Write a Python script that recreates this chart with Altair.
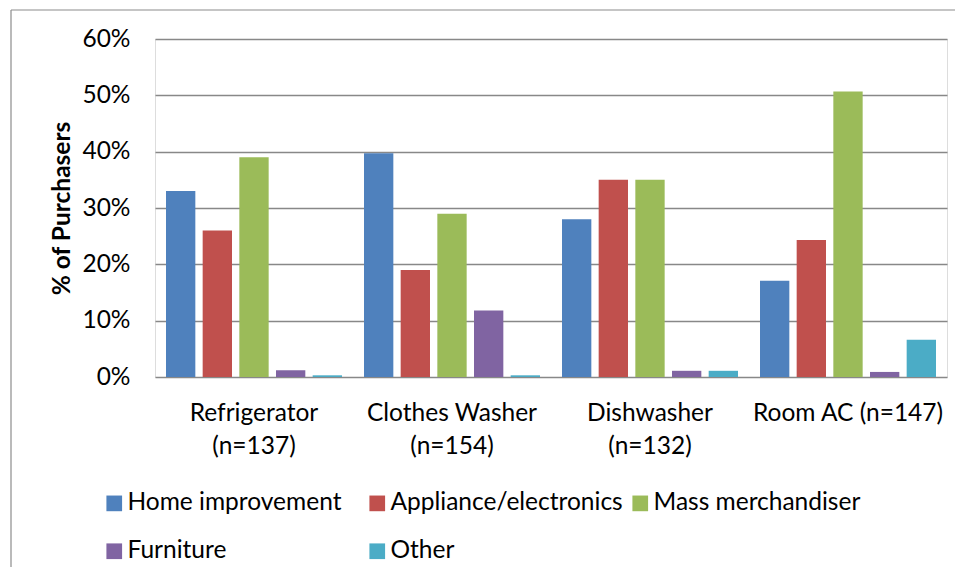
import altair as alt
import pandas as pd

categories = ["Refrigerator\n(n=137)", "Clothes Washer\n(n=154)", "Dishwasher\n(n=132)", "Room AC (n=147)"]
series = ["Home improvement", "Appliance/electronics", "Mass merchandiser", "Furniture", "Other"]
colors = ["#4F81BD", "#C0504D", "#9BBB59", "#8064A2", "#4BACC6"]

home_improvement = [0.330, 0.397, 0.280, 0.171]
appliance_electronics = [0.260, 0.190, 0.350, 0.243]
mass_merchandiser = [0.390, 0.290, 0.350, 0.507]
furniture = [0.012, 0.118, 0.011, 0.009]
other = [0.003, 0.003, 0.011, 0.066]

values_by_series = [home_improvement, appliance_electronics, mass_merchandiser, furniture, other]
rows = []
for s, vals in zip(series, values_by_series):
    for c, v in zip(categories, vals):
        rows.append({"category": c, "series": s, "value": v})
df = pd.DataFrame(rows)

FONT = "Lato"
FS = 24.5

bars = alt.Chart(df).mark_bar().encode(
    x=alt.X("category:N", sort=categories,
            scale=alt.Scale(paddingInner=0, paddingOuter=0),
            axis=alt.Axis(title=None, labelExpr="split(datum.label, '\\n')",
                          labelAngle=0, ticks=False, domain=False,
                          labelPadding=24, labelLineHeight=33, labelLimit=300,
                          labelFont=FONT, labelFontSize=FS, labelColor="#000000",
                          labelBaseline="top")),
    xOffset=alt.XOffset("series:N", sort=series,
                        scale=alt.Scale(paddingInner=0.2, paddingOuter=0.3)),
    y=alt.Y("value:Q", scale=alt.Scale(domain=[0, 0.6], nice=False),
            axis=alt.Axis(title="% of Purchasers", format=".0%",
                          values=[0, 0.1, 0.2, 0.3, 0.4, 0.5, 0.6],
                          ticks=False, domain=False, labelPadding=25,
                          labelFont=FONT, labelFontSize=FS, labelColor="#000000",
                          titleFont=FONT, titleFontSize=FS, titleFontWeight="bold",
                          titleColor="#000000", titleX=-93, titleY=169,
                          titleAngle=270, titleAlign="center", titleBaseline="middle",
                          grid=True, gridColor="#888888", gridWidth=1.4)),
    color=alt.Color("series:N", sort=series,
                    scale=alt.Scale(domain=series, range=colors),
                    legend=alt.Legend(title=None, orient="none", legendX=-53, legendY=452,
                                      direction="horizontal", columns=3, gridAlign="all",
                                      padding=0, columnPadding=5, rowPadding=23,
                                      symbolType="square", symbolSize=246,
                                      symbolStrokeWidth=0, labelOffset=1,
                                      labelFont=FONT, labelFontSize=FS,
                                      labelColor="#000000", labelLimit=400)),
)

frame_df = pd.DataFrame({"k": [0]})
top_line = alt.Chart(frame_df).mark_rule(color="#8c8c8c", strokeWidth=1.2).encode(
    x=alt.value(-144), x2=alt.value(800), y=alt.value(-29))
left_line = alt.Chart(frame_df).mark_rule(color="#8c8c8c", strokeWidth=1.2).encode(
    x=alt.value(-144), y=alt.value(-29), y2=alt.value(540))

chart = alt.layer(bars, top_line, left_line).properties(
    width=792, height=338,
    autosize=alt.AutoSizeParams(type="none"),
    padding={"left": 147, "top": 31, "right": 8, "bottom": 190},
).configure_view(stroke=None).configure(background="white")

chart.save("out.html", embed_options={"renderer": "svg", "actions": False})
